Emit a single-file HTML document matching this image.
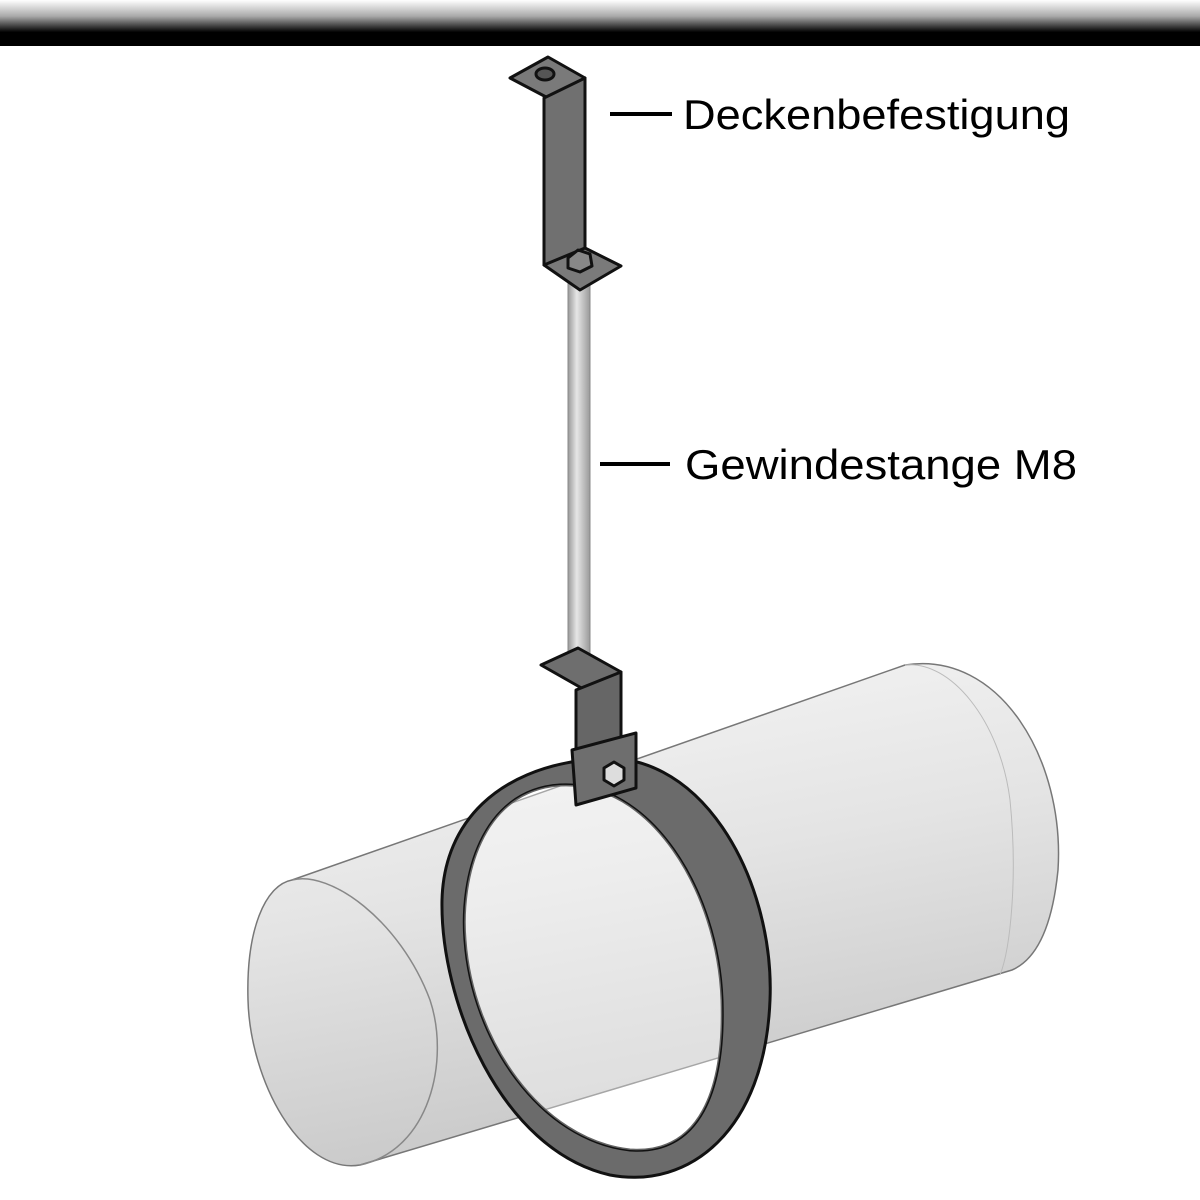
<!DOCTYPE html>
<html><head><style>
html,body{margin:0;padding:0;background:#fff;width:1200px;height:1200px;overflow:hidden}
</style></head><body>
<svg width="1200" height="1200" viewBox="0 0 1200 1200" xmlns="http://www.w3.org/2000/svg">
<defs>
<linearGradient id="bar" x1="0" y1="0" x2="0" y2="1">
<stop offset="0" stop-color="#fff"/><stop offset="0.35" stop-color="#aaa"/><stop offset="0.7" stop-color="#000"/><stop offset="1" stop-color="#000"/>
</linearGradient>
<linearGradient id="pipe" x1="0" y1="0" x2="0.3" y2="1">
<stop offset="0" stop-color="#f8f8f8"/><stop offset="0.5" stop-color="#e4e4e4"/><stop offset="1" stop-color="#c8c8c8"/>
</linearGradient>
<linearGradient id="rod" x1="0" y1="0" x2="1" y2="0">
<stop offset="0" stop-color="#999"/><stop offset="0.4" stop-color="#e6e6e6"/><stop offset="1" stop-color="#9a9a9a"/>
</linearGradient>
</defs>
<rect x="0" y="0" width="1200" height="46" fill="url(#bar)"/>
<!-- pipe -->
<path d="M292,880 L905,665 C1000,650 1065,760 1058,870 C1052,930 1035,960 1012,970 L360,1165 C300,1175 250,1080 248,1000 C246,930 265,885 292,880 Z" fill="url(#pipe)" stroke="#777" stroke-width="1.5"/>
<path d="M292,880 C330,870 400,920 430,1000 C450,1060 430,1150 360,1165" fill="none" stroke="#888" stroke-width="1.5"/>
<path d="M905,665 C950,660 1000,720 1010,800 C1018,880 1010,950 1000,975" fill="none" stroke="#bbb" stroke-width="1"/>
<!-- ring -->
<path fill-rule="evenodd" fill="#6b6b6b" stroke="#111" stroke-width="3"
 d="M585,760 C700,740 775,880 770,1000 C765,1130 690,1190 610,1175 C500,1150 440,1000 442,900 C444,820 500,770 585,760 Z
    M560,785 C480,790 460,880 465,940 C472,1040 540,1140 630,1150 C700,1155 725,1090 722,1000 C718,890 650,780 560,785 Z"/>
<path d="M560,785 C480,790 460,880 465,940 C472,1040 540,1140 630,1150 C700,1155 725,1090 722,1000 C718,890 650,780 560,785 Z" fill="rgba(255,255,255,0.35)"/>
<!-- rod -->
<rect x="568" y="278" width="22" height="395" fill="url(#rod)" stroke="#888" stroke-width="1"/>
<!-- upper bracket -->
<g stroke="#111" stroke-width="3" stroke-linejoin="round">
<polygon points="510,78 548,57 585,78 548,98" fill="#7a7a7a"/>
<ellipse cx="545" cy="74" rx="9" ry="6" fill="#555"/>
<polygon points="544,98 585,78 585,250 544,265" fill="#707070"/>
<polygon points="544,265 585,248 621,266 580,290" fill="#7a7a7a"/>
<polygon points="568,258 578,250 590,254 592,266 580,272 568,268" fill="#888"/>
<!-- lower bracket -->
<polygon points="541,665 578,648 621,672 585,690" fill="#6e6e6e"/>
<polygon points="576,690 621,672 621,740 576,760" fill="#666"/>
<polygon points="572,750 636,733 636,788 576,805" fill="#6e6e6e"/>
<polygon points="604,768 614,762 624,768 624,780 614,786 604,780" fill="#ddd"/>
</g>
<!-- labels -->
<line x1="610" y1="114" x2="672" y2="114" stroke="#000" stroke-width="4"/>
<text x="683" y="129" font-family="Liberation Sans, sans-serif" font-size="42" fill="#000" textLength="387" lengthAdjust="spacingAndGlyphs">Deckenbefestigung</text>
<line x1="600" y1="464" x2="670" y2="464" stroke="#000" stroke-width="4"/>
<text x="685" y="479" font-family="Liberation Sans, sans-serif" font-size="42" fill="#000" textLength="392" lengthAdjust="spacingAndGlyphs">Gewindestange M8</text>
</svg>
</body></html>
